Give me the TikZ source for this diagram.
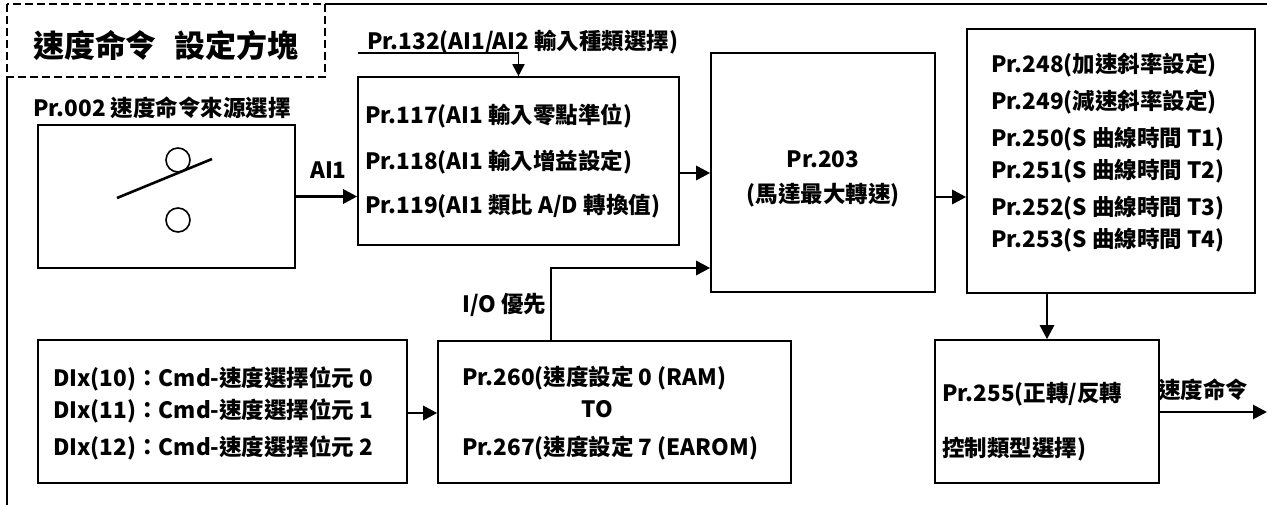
\documentclass[tikz,border=0pt]{standalone}
\usepackage{fontspec}
\setmainfont{Noto Sans CJK TC}
\usetikzlibrary{arrows.meta,calc}
\begin{document}
\begin{tikzpicture}[x=1pt,y=-1pt,
  box/.style={draw,line width=1.6pt,inner sep=0pt},
  txt/.style={inner sep=0pt,anchor=west,font=\fontsize{22.5}{26}\selectfont\bfseries},
  ctxt/.style={inner sep=0pt,font=\fontsize{22.5}{26}\selectfont\bfseries},
  arr/.style={line width=2.8pt,-{Triangle[length=14pt,width=14pt]}},
  thin/.style={line width=1.6pt}]
\useasboundingbox (0,0) rectangle (1267,505);
% outer frame and dashed title box
\draw[thin] (7,505) -- (7,77);
\draw[thin] (325,4) -- (1267,4);
\draw[line width=1.8pt,dash pattern=on 8pt off 4pt] (7,4) rectangle (325,77);
\node[inner sep=0pt,font=\fontsize{31}{34}\selectfont\bfseries] (title) at (166,46) {速度命令\hspace{18pt}設定方塊};
% source switch
\node[txt] (srclbl) at (33,108) {Pr.002 速度命令來源選擇};
\node[box,minimum width=257pt,minimum height=143pt] (sw) at (166.5,196.5) {};
\node[draw,circle,line width=1.6pt,minimum size=24pt,inner sep=0pt] (c1) at (178,160) {};
\node[draw,circle,line width=1.6pt,minimum size=24pt,inner sep=0pt] (c2) at (178,220) {};
\draw[line width=2.6pt] (117,198) -- (212,159);
% AI box
\node[box,minimum width=321pt,minimum height=168pt] (ai) at (518.5,161) {};
\node[txt] (t117) at (365,116) {Pr.117(AI1 輸入零點準位)};
\node[txt] (t118) at (365,162) {Pr.118(AI1 輸入增益設定)};
\node[txt] (t119) at (365,206) {Pr.119(AI1 類比 A/D 轉換值)};
\node[txt] (t132) at (367,42) {Pr.132(AI1/AI2 輸入種類選擇)};
\coordinate (p132) at (358,53);
\draw[thin] (p132) -| (ai.north);
\draw[line width=1.8pt,-{Triangle[length=12pt,width=12pt]}] ($(ai.north)+(0,-14)$) -- (ai.north);
\draw[arr] (sw.east) -- (sw.east -| ai.west);
\node[txt] (ai1) at (310,170) {AI1};
% Pr.203
\node[box,minimum width=224pt,minimum height=239pt] (b203) at (823,172.5) {};
\node[ctxt] (t203a) at (823,159) {Pr.203};
\node[ctxt] (t203b) at (823,195) {(馬達最大轉速)};
\draw[arr] ($(ai.east)+(0,12)$) -- ($(b203.west)+(0,0.5)$);
% Pr.248 box
\node[box,minimum width=288pt,minimum height=264pt] (b248) at (1111,161) {};
\node[txt] (t248) at (991,65) {Pr.248(加速斜率設定)};
\node[txt] (t249) at (991,102) {Pr.249(減速斜率設定)};
\node[txt] (t250) at (991,139) {Pr.250(S 曲線時間 T1)};
\node[txt] (t251) at (991,171) {Pr.251(S 曲線時間 T2)};
\node[txt] (t252) at (991,208) {Pr.252(S 曲線時間 T3)};
\node[txt] (t253) at (991,240) {Pr.253(S 曲線時間 T4)};
\draw[arr] ($(b203.east)+(0,24.5)$) -- ($(b248.west)+(0,36)$);
% DI box
\node[box,minimum width=369pt,minimum height=143pt] (di) at (222.5,411.5) {};
\node[txt] (d10) at (53,379) {DIx(10)：Cmd-速度選擇位元 0};
\node[txt] (d11) at (53,411) {DIx(11)：Cmd-速度選擇位元 1};
\node[txt] (d12) at (53,448) {DIx(12)：Cmd-速度選擇位元 2};
% Pr.260 box
\node[box,minimum width=353pt,minimum height=142pt] (p260) at (614.5,412) {};
\node[txt] (t260) at (462,378) {Pr.260(速度設定 0 (RAM)};
\node[ctxt] (tto) at (597,409) {TO};
\node[txt] (t267) at (462,448) {Pr.267(速度設定 7 (EAROM)};
\draw[arr] ($(di.east)+(0,1.5)$) -- ($(p260.west)+(0,1)$);
\draw[arr] ($(p260.north)+(-63.5,0)$) |- ($(b203.west)+(0,95.5)$);
\node[txt] (io) at (462,305) {I/O 優先};
% Pr.255 box
\node[box,minimum width=224pt,minimum height=143pt] (b255) at (1047,411.5) {};
\node[txt] (t255a) at (942,394) {Pr.255(正轉/反轉};
\node[txt] (t255b) at (942,449) {控制類型選擇)};
\draw[arr] (b255.north |- b248.south) -- (b255.north);
\coordinate (out) at (1267,412);
\draw[arr] (b255.east |- out) -- (out);
\node[txt] (outlbl) at (1158,390) {速度命令};
\end{tikzpicture}
\end{document}
